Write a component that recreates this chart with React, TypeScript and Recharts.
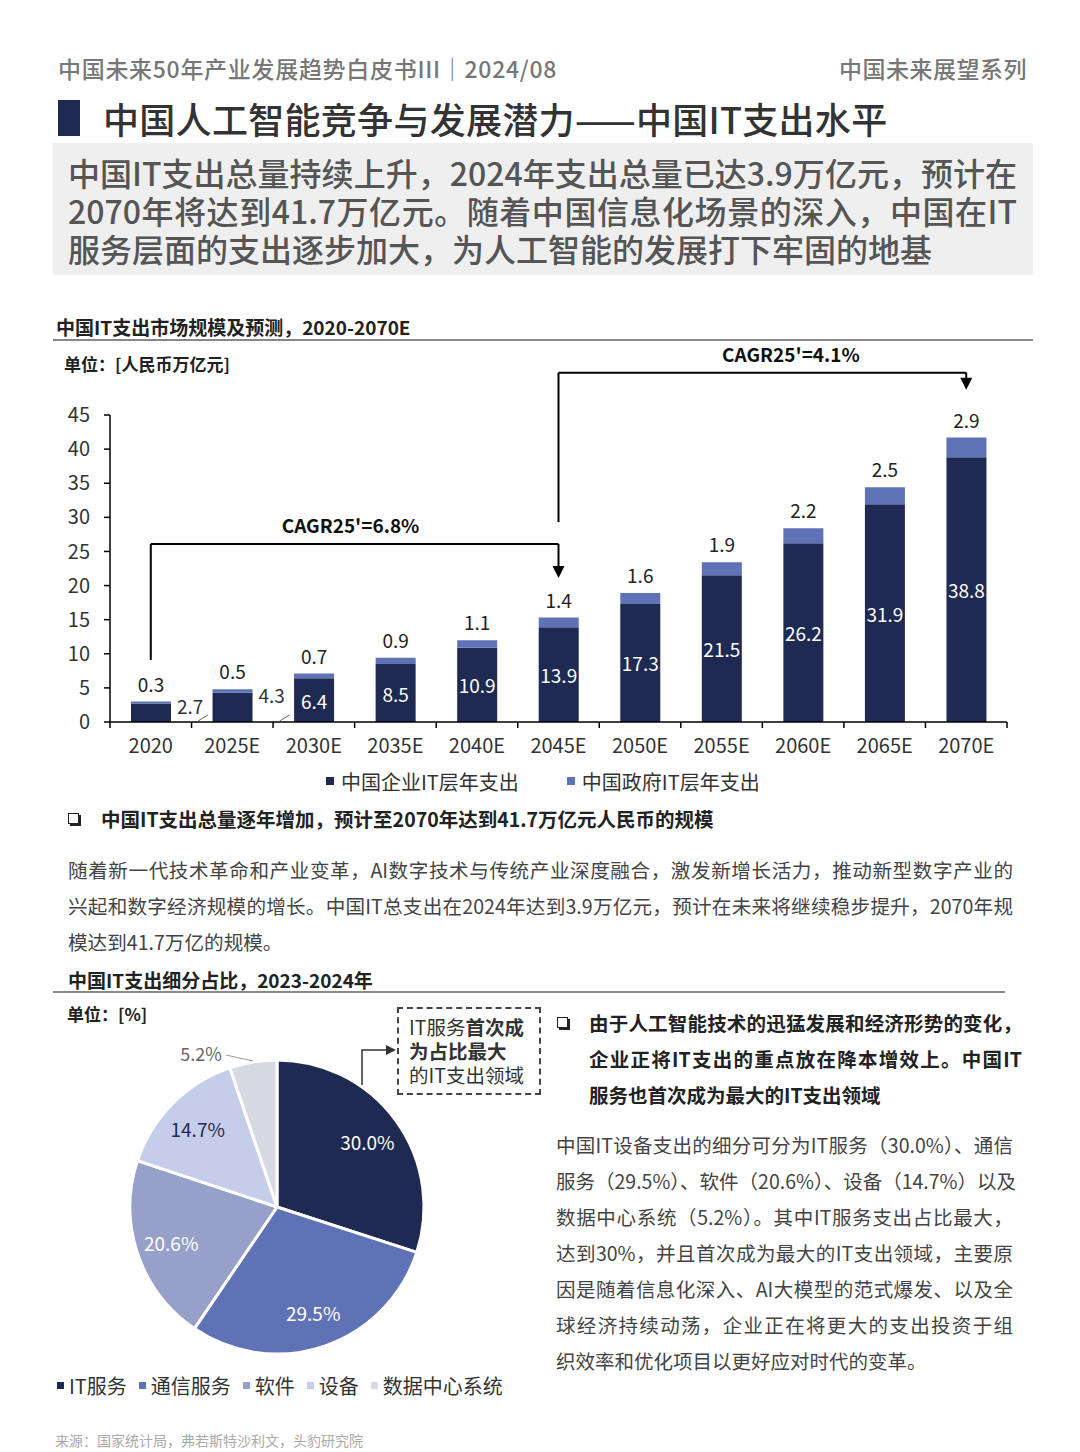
import React from 'react';
import { BarChart, Bar, XAxis, YAxis, LabelList, ReferenceLine, Legend, PieChart, Pie, Cell } from 'recharts';

const FONT = '"Noto Sans CJK SC", "Noto Sans", sans-serif';

// ---- Bar chart data ----
const years = ['2020', '2025E', '2030E', '2035E', '2040E', '2045E', '2050E', '2055E', '2060E', '2065E', '2070E'];
const enterpriseSpend = [2.7, 4.3, 6.4, 8.5, 10.9, 13.9, 17.3, 21.5, 26.2, 31.9, 38.8];
const governmentSpend = [0.3, 0.5, 0.7, 0.9, 1.1, 1.4, 1.6, 1.9, 2.2, 2.5, 2.9];
const yTicks = [0, 5, 10, 15, 20, 25, 30, 35, 40, 45];
const seriesNames = ['中国企业IT层年支出', '中国政府IT层年支出'];
const seriesColors = ['#1f2a52', '#5f72b6'];

// CAGR bracket annotations (data units)
const cagrLabels = ["CAGR25'=6.8%", "CAGR25'=4.1%"];
const cagrFrom = ['2020', '2045E'];
const cagrTo = ['2045E', '2070E'];
const cagrStart = [9.1, 29.3];
const cagrLevel = [26.1, 51.2];
const cagrTip = [21.1, 48.7];
const cagrTextFrac = [0.49, 0.57];

// ---- Pie data ----
const segNames = ['IT服务', '通信服务', '软件', '设备', '数据中心系统'];
const segShares = [30.0, 29.5, 20.6, 14.7, 5.2];
const segColors = ['#1f2a52', '#5f72b6', '#96a0c8', '#c6cdea', '#d7dae2'];

const barData = years.map((y, i) => ({ year: y, enterprise: enterpriseSpend[i], government: governmentSpend[i] }));
const pieData = segNames.map((n, i) => ({ name: n, value: segShares[i] }));

const XTick = (props: any) => {
  const { x, y, payload, width } = props;
  const half = payload && payload.offset ? payload.offset : Number(width) / years.length / 2;
  const isLast = payload.value === years[years.length - 1];
  return (
    <g>
      <line x1={x - half} y1={y} x2={x - half} y2={y + 6} stroke="#000" strokeWidth={1.5} />
      {isLast && <line x1={x + half} y1={y} x2={x + half} y2={y + 6} stroke="#000" strokeWidth={1.5} />}
      <text x={x} y={y + 22} textAnchor="middle" dominantBaseline="central" fontSize={20} fill="#333" fontFamily={FONT}>
        {payload.value}
      </text>
    </g>
  );
};

const EntLabel = (props: any) => {
  const X = Number(props.x), Y = Number(props.y), W = Number(props.width), H = Number(props.height);
  const v = Number(props.value);
  if (v < 5) {
    return (
      <g>
        <line x1={X + W + 27} y1={Y + H - 1} x2={X + W + 37} y2={Y + H - 7} stroke="#666" strokeWidth={1} />
        <text x={X + W + 6} y={Y + 2} textAnchor="start" dominantBaseline="central" fontSize={19} fill="#333" fontFamily={FONT}>
          {props.value}
        </text>
      </g>
    );
  }
  return (
    <text x={X + W / 2} y={Y + H / 2} textAnchor="middle" dominantBaseline="central" fontSize={19} fill="#fff" fontFamily={FONT}>
      {props.value}
    </text>
  );
};

const ArrowShape = (p: any) => {
  const { x1, y1, x2, y2 } = p;
  return (
    <g>
      <line x1={x1} y1={y1} x2={x2} y2={y2 - 10} stroke="#000" strokeWidth={2} />
      <polygon points={`${x2 - 6},${y2 - 12} ${x2 + 6},${y2 - 12} ${x2},${y2}`} fill="#000" />
    </g>
  );
};

const CagrLabel = (props: any) => {
  const vb = props.viewBox || {};
  return (
    <text
      x={vb.x + vb.width * props.frac}
      y={vb.y - 11}
      textAnchor="middle"
      fontSize={19}
      fontWeight="bold"
      fill="#111"
      fontFamily={FONT}
    >
      {props.text}
    </text>
  );
};

const BarLegend = () => (
  <div style={{ height: 30, display: 'flex', alignItems: 'center', paddingLeft: 326, fontFamily: FONT, fontSize: 20, color: '#333' }}>
    {seriesNames.map((n, i) => (
      <div key={n} style={{ display: 'flex', alignItems: 'center', marginLeft: i === 0 ? 0 : 48 }}>
        <span style={{ display: 'inline-block', width: 8, height: 8, background: seriesColors[i], marginRight: 7 }} />
        <span>{n}</span>
      </div>
    ))}
  </div>
);

const PieLegend = () => (
  <div style={{ height: 30, display: 'flex', alignItems: 'center', paddingLeft: 57, fontFamily: FONT, fontSize: 20, color: '#333' }}>
    {segNames.map((n, i) => (
      <div key={n} style={{ display: 'flex', alignItems: 'center', marginRight: 12 }}>
        <span style={{ display: 'inline-block', width: 7, height: 7, background: segColors[i], marginRight: 5 }} />
        <span>{n}</span>
      </div>
    ))}
  </div>
);

const RADIAN = Math.PI / 180;
const renderPieLabel = (p: any) => {
  const { cx, cy, midAngle, outerRadius, index, value } = p;
  const txt = `${Number(value).toFixed(1)}%`;
  if (index === segShares.length - 1) {
    const ox = cx + (outerRadius + 1) * Math.cos(-midAngle * RADIAN);
    const oy = cy + (outerRadius + 1) * Math.sin(-midAngle * RADIAN);
    return (
      <g>
        <line x1={ox} y1={oy} x2={ox - 27} y2={oy - 6} stroke="#999" strokeWidth={1} />
        <text x={ox - 31} y={oy - 8} textAnchor="end" dominantBaseline="central" fontSize={18} fill="#666" fontFamily={FONT}>
          {txt}
        </text>
      </g>
    );
  }
  const r = outerRadius * 0.76;
  const x = cx + r * Math.cos(-midAngle * RADIAN);
  const y = cy + r * Math.sin(-midAngle * RADIAN);
  return (
    <text x={x} y={y} textAnchor="middle" dominantBaseline="central" fontSize={19} fill={index === 3 ? '#1f2a52' : '#fff'} fontFamily={FONT}>
      {txt}
    </text>
  );
};

const abs = (left: number, top: number, extra: any = {}) => ({ position: 'absolute' as const, left, top, ...extra });

const JLine = ({ text, left, top, width, size, lh, color, weight, justify }: any) => (
  <div
    style={abs(left, top, {
      width,
      fontSize: size,
      lineHeight: `${lh}px`,
      height: lh,
      color,
      fontWeight: weight,
      whiteSpace: 'nowrap',
      textAlign: justify ? 'justify' : 'left',
      textAlignLast: justify ? 'justify' : 'left',
    })}
  >
    {text}
  </div>
);

const boxText =
  '中国IT支出总量持续上升，2024年支出总量已达3.9万亿元，预计在2070年将达到41.7万亿元。随着中国信息化场景的深入，中国在IT服务层面的支出逐步加大，为人工智能的发展打下牢固的地基';
const para1 = [
  '随着新一代技术革命和产业变革，AI数字技术与传统产业深度融合，激发新增长活力，推动新型数字产业的',
  '兴起和数字经济规模的增长。中国IT总支出在2024年达到3.9万亿元，预计在未来将继续稳步提升，2070年规',
  '模达到41.7万亿的规模。',
];
const bold2 = ['由于人工智能技术的迅猛发展和经济形势的变化，', '企业正将IT支出的重点放在降本增效上。中国IT', '服务也首次成为最大的IT支出领域'];
const para2 = [
  '中国IT设备支出的细分可分为IT服务（30.0%）、通信',
  '服务（29.5%）、软件（20.6%）、设备（14.7%）以及',
  '数据中心系统（5.2%）。其中IT服务支出占比最大，',
  '达到30%，并且首次成为最大的IT支出领域，主要原',
  '因是随着信息化深入、AI大模型的范式爆发、以及全',
  '球经济持续动荡，企业正在将更大的支出投资于组',
  '织效率和优化项目以更好应对时代的变革。',
];

const Bullet = ({ left, top }: any) => (
  <div style={abs(left, top, { width: 9, height: 9, border: '1.5px solid #222', boxShadow: '2px 2px 0 #222', background: '#fff' })} />
);

export default function App() {
  return (
    <div style={{ position: 'absolute', left: 0, top: 0, width: 1080, height: 1452, background: '#fff', fontFamily: FONT, overflow: 'hidden' }}>
      {/* Header */}
      <div style={abs(58, 53, { fontSize: 23, lineHeight: '30px', color: '#777', fontWeight: 500, letterSpacing: 0.7, whiteSpace: 'nowrap' })}>
        中国未来50年产业发展趋势白皮书III｜2024/08
      </div>
      <div style={abs(830, 53, { width: 197, fontSize: 23, lineHeight: '30px', color: '#777', fontWeight: 500, textAlign: 'right', letterSpacing: 0.5, whiteSpace: 'nowrap' })}>
        中国未来展望系列
      </div>

      {/* Title */}
      <div style={abs(58, 100, { width: 22, height: 36, background: '#1f2a52' })} />
      <div style={abs(103, 96, { fontSize: 36, lineHeight: '44px', color: '#333', fontWeight: 500, letterSpacing: 0.3, whiteSpace: 'nowrap' })}>
        中国人工智能竞争与发展潜力——中国IT支出水平
      </div>

      {/* Gray box */}
      <div style={abs(53, 143, { width: 980, height: 132, background: '#efefef' })} />
      <div style={abs(68, 153, { width: 949, fontSize: 32, lineHeight: '38px', color: '#555', fontWeight: 500, textAlign: 'justify' })}>
        {boxText}
      </div>

      {/* Section 1 header */}
      <div style={abs(56, 314, { fontSize: 19, lineHeight: '26px', color: '#222', fontWeight: 700, whiteSpace: 'nowrap' })}>
        中国IT支出市场规模及预测，2020-2070E
      </div>
      <div style={abs(53, 339, { width: 980, height: 1.5, background: '#888' })} />
      <div style={abs(64, 351, { fontSize: 17, lineHeight: '26px', color: '#222', fontWeight: 700, whiteSpace: 'nowrap' })}>
        单位：[人民币万亿元]
      </div>

      {/* Bar chart */}
      <div style={abs(0, 340)}>
        <BarChart width={1080} height={470} data={barData} margin={{ top: 75, right: 73, left: 0, bottom: 14 }} barSize={40}>
          <XAxis dataKey="year" interval={0} tick={<XTick />} tickLine={false} tickSize={0} tickMargin={0} height={44} axisLine={{ stroke: '#000', strokeWidth: 1.5 }} />
          <YAxis
            domain={[0, 45]}
            ticks={yTicks}
            interval={0}
            width={110}
            tickSize={6}
            tickMargin={14}
            axisLine={{ stroke: '#000', strokeWidth: 1.5 }}
            tickLine={{ stroke: '#000', strokeWidth: 1.5 }}
            tick={{ fontSize: 20, fill: '#333', fontFamily: FONT }}
          />
          <Bar dataKey="enterprise" name={seriesNames[0]} stackId="a" fill={seriesColors[0]} isAnimationActive={false}>
            <LabelList dataKey="enterprise" content={<EntLabel />} />
          </Bar>
          <Bar dataKey="government" name={seriesNames[1]} stackId="a" fill={seriesColors[1]} isAnimationActive={false}>
            <LabelList dataKey="government" position="top" offset={10} fill="#222" fontSize={19} fontFamily={FONT} />
          </Bar>
          {cagrLabels.map((lab, i) => (
            <ReferenceLine
              key={`v${i}`}
              segment={[{ x: cagrFrom[i], y: cagrStart[i] }, { x: cagrFrom[i], y: cagrLevel[i] }]}
              stroke="#000"
              strokeWidth={2}
              ifOverflow="visible"
            />
          ))}
          {cagrLabels.map((lab, i) => (
            <ReferenceLine
              key={`h${i}`}
              segment={[{ x: cagrFrom[i], y: cagrLevel[i] }, { x: cagrTo[i], y: cagrLevel[i] }]}
              stroke="#000"
              strokeWidth={2}
              ifOverflow="visible"
              label={<CagrLabel text={lab} frac={cagrTextFrac[i]} />}
            />
          ))}
          {cagrLabels.map((lab, i) => (
            <ReferenceLine
              key={`a${i}`}
              segment={[{ x: cagrTo[i], y: cagrLevel[i] }, { x: cagrTo[i], y: cagrTip[i] }]}
              stroke="#000"
              strokeWidth={2}
              ifOverflow="visible"
              shape={ArrowShape}
            />
          ))}
          <Legend verticalAlign="bottom" height={30} content={<BarLegend />} />
        </BarChart>
      </div>

      {/* Bullet 1 */}
      <Bullet left={68} top={813} />
      <div style={abs(101, 806, { fontSize: 19.5, lineHeight: '26px', color: '#222', fontWeight: 700, whiteSpace: 'nowrap' })}>
        中国IT支出总量逐年增加，预计至2070年达到41.7万亿元人民币的规模
      </div>
      {para1.map((t, i) => (
        <JLine key={i} text={t} left={68} top={852 + i * 36} width={945} size={19.6} lh={36} color="#444" weight={400} justify={i < 2} />
      ))}

      {/* Section 2 header */}
      <div style={abs(68, 967, { fontSize: 19, lineHeight: '26px', color: '#222', fontWeight: 700, whiteSpace: 'nowrap' })}>
        中国IT支出细分占比，2023-2024年
      </div>
      <div style={abs(53, 991, { width: 952, height: 1.5, background: '#888' })} />
      <div style={abs(67, 1001, { fontSize: 17, lineHeight: '26px', color: '#222', fontWeight: 700, whiteSpace: 'nowrap' })}>
        单位：[%]
      </div>

      {/* Pie chart */}
      <div style={abs(0, 1040)}>
        <PieChart width={560} height={360} margin={{ top: 0, right: 0, left: 0, bottom: 0 }}>
          <Pie
            data={pieData}
            dataKey="value"
            nameKey="name"
            cx={277}
            cy={167}
            outerRadius={147}
            startAngle={90}
            endAngle={-270}
            stroke="#fff"
            strokeWidth={3}
            label={renderPieLabel}
            labelLine={false}
            isAnimationActive={false}
          >
            {pieData.map((d, i) => (
              <Cell key={d.name} fill={segColors[i]} />
            ))}
          </Pie>
          <Legend verticalAlign="bottom" height={30} content={<PieLegend />} />
        </PieChart>
      </div>

      {/* Annotation box */}
      <div style={abs(397, 1007, { width: 140, height: 84, border: '2px dashed #444' })} />
      <div style={abs(409, 1015, { fontSize: 19.5, lineHeight: '24px', color: '#333', whiteSpace: 'nowrap' })}>
        IT服务<b>首次成</b>
        <br />
        <b>为占比最大</b>
        <br />
        的IT支出领域
      </div>
      <svg style={abs(0, 0, { pointerEvents: 'none' })} width={1080} height={1452}>
        <polyline points="362,1085 362,1050 386,1050" fill="none" stroke="#333" strokeWidth={1.5} />
        <polygon points="386,1045 396,1050 386,1055" fill="#333" />
      </svg>

      {/* Right column */}
      <Bullet left={557} top={1017} />
      {bold2.map((t, i) => (
        <JLine key={i} text={t} left={589} top={1005 + i * 36} width={433} size={19.5} lh={36} color="#222" weight={700} justify={i < 2} />
      ))}
      {para2.map((t, i) => (
        <JLine key={i} text={t} left={556} top={1127 + i * 36} width={457} size={19.5} lh={36} color="#444" weight={400} justify={i < 6} />
      ))}

      {/* Source */}
      <div style={abs(55, 1431, { fontSize: 14, lineHeight: '18px', color: '#aaa', whiteSpace: 'nowrap' })}>
        来源：国家统计局，弗若斯特沙利文，头豹研究院
      </div>
    </div>
  );
}
